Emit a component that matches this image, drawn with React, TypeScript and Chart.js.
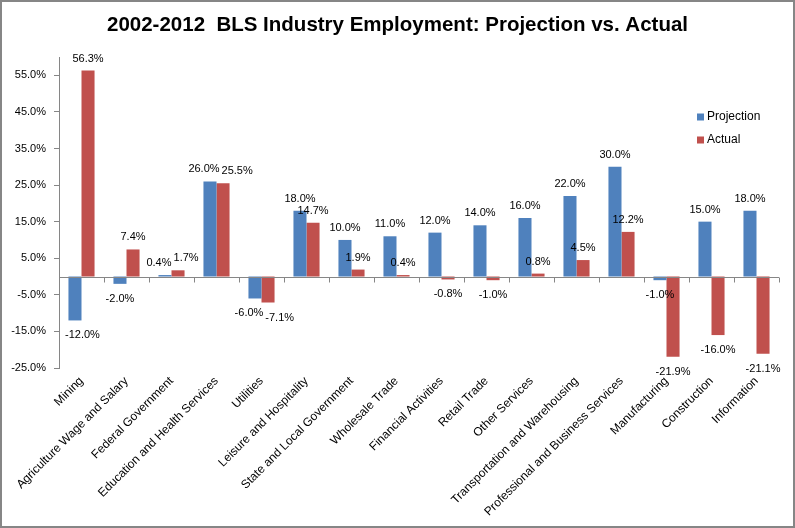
import React, { useEffect, useRef } from 'react';
import { Chart, registerables } from 'chart.js';

Chart.register(...registerables);

const titleText = '2002-2012  BLS Industry Employment: Projection vs. Actual';
const categories = [
  'Mining',
  'Agriculture Wage and Salary',
  'Federal Government',
  'Education and Health Services',
  'Utilities',
  'Leisure and Hospitality',
  'State and Local Government',
  'Wholesale Trade',
  'Financial Activities',
  'Retail Trade',
  'Other Services',
  'Transportation and Warehousing',
  'Professional and Business Services',
  'Manufacturing',
  'Construction',
  'Information',
];
const projection = [-12.0, -2.0, 0.4, 26.0, -6.0, 18.0, 10.0, 11.0, 12.0, 14.0, 16.0, 22.0, 30.0, -1.0, 15.0, 18.0];
const actual = [56.3, 7.4, 1.7, 25.5, -7.1, 14.7, 1.9, 0.4, -0.8, -1.0, 0.8, 4.5, 12.2, -21.9, -16.0, -21.1];
const seriesNames = ['Projection', 'Actual'];
const seriesColors = ['#4F81BD', '#C0504D'];
const yTicks = [-25, -15, -5, 5, 15, 25, 35, 45, 55];
const yMin = -25;
const yMax = 60;

const FONT = "'Liberation Sans', Arial, sans-serif";
const AXIS_GRAY = '#868686';

const fmt = (v: number) => v.toFixed(1) + '%';

const framePlugin = {
  id: 'frame',
  beforeDraw(chart: any) {
    const { ctx, width, height } = chart;
    ctx.save();
    ctx.fillStyle = '#ffffff';
    ctx.fillRect(0, 0, width, height);
    ctx.strokeStyle = AXIS_GRAY;
    ctx.lineWidth = 2;
    ctx.strokeRect(1, 1, width - 2, height - 2);
    ctx.restore();
  },
};

const zeroAxisPlugin = {
  id: 'zeroAxis',
  afterDatasetsDraw(chart: any) {
    const { ctx, chartArea } = chart;
    const xs = chart.scales.x;
    const ys = chart.scales.y;
    const y0 = Math.round(ys.getPixelForValue(0)) + 0.5;
    ctx.save();
    ctx.strokeStyle = AXIS_GRAY;
    ctx.lineWidth = 1;
    ctx.beginPath();
    ctx.moveTo(chartArea.left, y0);
    ctx.lineTo(chartArea.right, y0);
    for (let i = 0; i <= categories.length; i++) {
      const x = Math.round(xs.getPixelForValue(i - 0.5)) + 0.5;
      ctx.moveTo(x, y0);
      ctx.lineTo(x, y0 + 5);
    }
    ctx.stroke();
    ctx.restore();
  },
};

const dataLabelPlugin = {
  id: 'dataLabels',
  afterDatasetsDraw(chart: any) {
    const { ctx, chartArea } = chart;
    ctx.save();
    ctx.font = `11px ${FONT}`;
    ctx.fillStyle = '#000000';
    ctx.textAlign = 'center';
    ctx.textBaseline = 'alphabetic';
    const m0 = chart.getDatasetMeta(0);
    const m1 = chart.getDatasetMeta(1);
    const d0 = chart.data.datasets[0].data as number[];
    const d1 = chart.data.datasets[1].data as number[];
    for (let i = 0; i < categories.length; i++) {
      const items = [
        { v: d0[i], el: m0.data[i] },
        { v: d1[i], el: m1.data[i] },
      ].map((it: any) => {
        const t = fmt(it.v);
        const w = ctx.measureText(t).width;
        const y = it.v >= 0 ? it.el.y - 9 : it.el.y + 18;
        return { t, w, x: it.el.x, y };
      });
      const [a, b] = items;
      if (Math.abs(a.y - b.y) < 11 && a.x + a.w / 2 > b.x - b.w / 2) {
        a.x = a.x - 6;
        b.x = Math.max(b.x, a.x + a.w / 2 + b.w / 2 + 2);
      }
      items.forEach((it) => {
        const x = Math.max(it.x, chartArea.left + it.w / 2 + 6);
        ctx.fillText(it.t, x, it.y);
      });
    }
    ctx.restore();
  },
};

const legendPlugin = {
  id: 'customLegend',
  afterDraw(chart: any) {
    const { ctx } = chart;
    const x0 = 697;
    const y0 = 117;
    const gap = 23;
    ctx.save();
    ctx.font = `12px ${FONT}`;
    ctx.textBaseline = 'middle';
    ctx.textAlign = 'left';
    chart.data.datasets.forEach((ds: any, di: number) => {
      const cy = y0 + di * gap;
      ctx.fillStyle = ds.backgroundColor;
      ctx.fillRect(x0, cy - 3.5, 7, 7);
      ctx.fillStyle = '#000000';
      ctx.fillText(ds.label, x0 + 10, cy);
    });
    ctx.restore();
  },
};

export default function App() {
  const canvasRef = useRef<HTMLCanvasElement | null>(null);

  useEffect(() => {
    if (!canvasRef.current) return;
    const chart = new Chart(canvasRef.current, {
      type: 'bar',
      data: {
        labels: categories,
        datasets: [
          { label: seriesNames[0], data: projection, backgroundColor: seriesColors[0], borderWidth: 0, yAxisID: 'y' },
          { label: seriesNames[1], data: actual, backgroundColor: seriesColors[1], borderWidth: 0, yAxisID: 'y' },
        ],
      },
      options: {
        animation: false,
        responsive: true,
        maintainAspectRatio: false,
        devicePixelRatio: 1,
        layout: { padding: { left: 0, right: 0, top: 0, bottom: 0 } },
        datasets: { bar: { categoryPercentage: 0.58, barPercentage: 1 } },
        plugins: {
          legend: { display: false },
          tooltip: { enabled: false },
          title: {
            display: true,
            text: titleText,
            color: '#000000',
            font: { family: FONT, size: 20.5, weight: 'bold' },
            padding: { top: 13, bottom: 19.4 },
          },
        },
        scales: {
          x: {
            type: 'category',
            grid: { display: false, drawTicks: false },
            border: { display: false },
            ticks: {
              autoSkip: false,
              maxRotation: 45,
              minRotation: 45,
              color: '#000000',
              padding: 6,
              font: { family: FONT, size: 12 },
            },
            afterFit: (s: any) => {
              s.height = 160;
            },
          },
          y: {
            min: yMin,
            max: yMax,
            afterBuildTicks: (s: any) => {
              s.ticks = yTicks.map((v) => ({ value: v }));
            },
            grid: { drawOnChartArea: false, drawTicks: true, tickLength: 5, color: AXIS_GRAY },
            border: { display: true, color: AXIS_GRAY, width: 1 },
            ticks: {
              color: '#000000',
              padding: 8,
              font: { family: FONT, size: 11 },
              callback: (v: any) => fmt(Number(v)),
            },
            afterFit: (s: any) => {
              s.width = 59;
            },
          },
          yRightSpace: {
            type: 'linear',
            position: 'right',
            display: true,
            min: yMin,
            max: yMax,
            grid: { display: false, drawTicks: false },
            border: { display: false },
            ticks: { display: false },
            afterFit: (s: any) => {
              s.width = 16;
            },
          },
        },
      },
      plugins: [framePlugin, zeroAxisPlugin, dataLabelPlugin, legendPlugin],
    });
    return () => chart.destroy();
  }, []);

  return (
    <div style={{ position: 'absolute', left: 0, top: 0, width: 795, height: 528 }}>
      <canvas ref={canvasRef} />
    </div>
  );
}
